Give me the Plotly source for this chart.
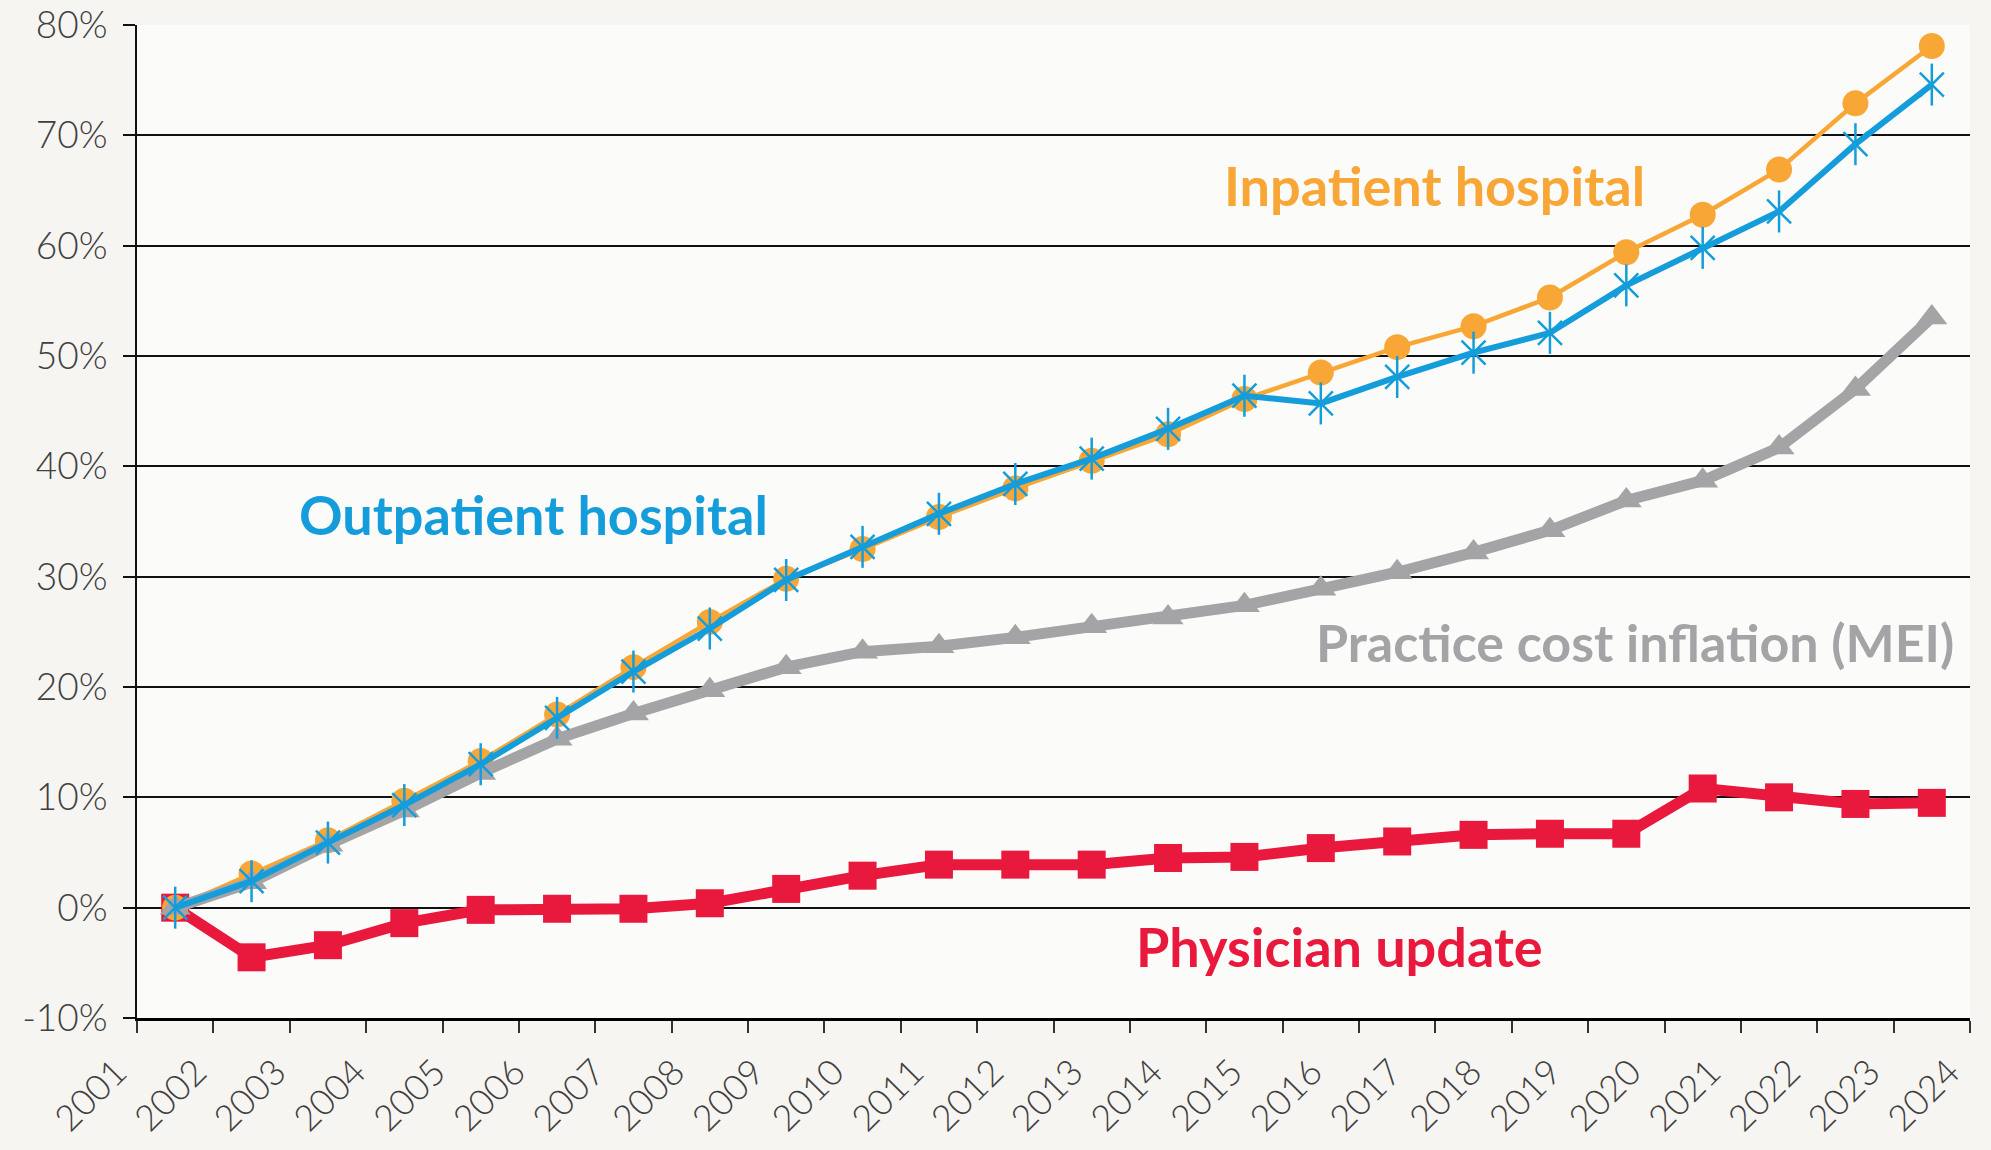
import plotly.graph_objects as go

# ---------------- data ----------------
years = list(range(2001, 2025))
year_labels = [str(y) for y in years]

inpatient = [0.0, 3.1, 6.1, 9.7, 13.3, 17.5, 21.8, 25.9, 29.8, 32.5, 35.4, 38.0,
             40.5, 42.9, 46.1, 48.5, 50.8, 52.7, 55.3, 59.4, 62.8, 66.9, 72.9, 78.1]
outpatient = [0.0, 2.4, 5.9, 9.3, 13.0, 17.2, 21.4, 25.3, 29.7, 32.7, 35.7, 38.4,
              40.7, 43.4, 46.4, 45.7, 48.1, 50.3, 52.1, 56.4, 59.8, 63.1, 69.2, 74.6]
mei = [0.0, 2.3, 5.7, 8.8, 12.2, 15.3, 17.6, 19.7, 21.8, 23.2, 23.7, 24.5,
       25.5, 26.3, 27.4, 28.9, 30.4, 32.2, 34.2, 36.9, 38.7, 41.7, 47.0, 53.5]
physician = [0.0, -4.5, -3.4, -1.4, -0.2, -0.1, -0.1, 0.4, 1.7, 2.9, 3.9, 3.9,
             3.9, 4.5, 4.6, 5.4, 6.0, 6.6, 6.7, 6.7, 10.8, 10.0, 9.4, 9.5]

y_ticks = list(range(-10, 90, 10))
y_tick_labels = [f"{v}%" for v in y_ticks]

series_labels = ["Inpatient hospital", "Outpatient hospital",
                 "Practice cost inflation (MEI)", "Physician update"]

# ---------------- style ----------------
C_IN = "#F8A737"
C_OUT = "#149DDA"
C_MEI = "#A4A4A6"
C_PHY = "#E8193C"

x_lo, x_hi = years[0] - 0.5, years[-1] + 0.5
n = len(years)
boundary_ticks = [x_lo + i for i in range(n + 1)]
label_pos = [x_lo + i * (x_hi - x_lo) / (n - 1) for i in range(n)]
pad = "\u00a0" * 3  # nudges the rotated label ends slightly left
label_text = [t + pad for t in year_labels]

fig = go.Figure()

fig.add_trace(go.Scatter(
    x=years, y=physician, mode="lines+markers", name=series_labels[3],
    line=dict(color=C_PHY, width=11),
    marker=dict(symbol="square", size=28, color=C_PHY)))

fig.add_trace(go.Scatter(
    x=years, y=inpatient, mode="lines+markers", name=series_labels[0],
    line=dict(color=C_IN, width=4.5),
    marker=dict(symbol="circle", size=26, color=C_IN)))

fig.add_trace(go.Scatter(
    x=years, y=mei, mode="lines+markers", name=series_labels[2],
    line=dict(color=C_MEI, width=11),
    marker=dict(symbol="triangle-up", size=27, color=C_MEI)))

fig.add_trace(go.Scatter(
    x=years, y=outpatient, mode="lines+markers", name=series_labels[1],
    line=dict(color=C_OUT, width=6),
    marker=dict(symbol="x-thin-open", size=24, color=C_OUT,
                line=dict(color=C_OUT, width=2.5))))
fig.add_trace(go.Scatter(
    x=years, y=outpatient, mode="markers", showlegend=False, hoverinfo="skip",
    marker=dict(symbol="line-ns-open", size=30, color=C_OUT,
                line=dict(color=C_OUT, width=2.5))))

# helper trace so the label axis is drawn
fig.add_trace(go.Scatter(x=[x_lo, x_hi], y=[None, None], xaxis="x2",
                         mode="none", showlegend=False, hoverinfo="skip"))

ann = [
    (series_labels[0], 2017.49, 65.45, C_IN, 54),
    (series_labels[1], 2005.69, 35.6, C_OUT, 54),
    (series_labels[2], 2020.11, 24.1, C_MEI, 52),
    (series_labels[3], 2016.25, -3.5, C_PHY, 54),
]
for text, ax_, ay_, col, fs in ann:
    fig.add_annotation(x=ax_, y=ay_, xref="x", yref="y", text=text,
                       showarrow=False, xanchor="center", yanchor="middle",
                       font=dict(family="Lato", size=fs, weight="bold",
                                 color=col))

tick_font = dict(family="Lato", size=37, color="#404040", weight=300)
xtick_font = dict(family="Lato", size=36, color="#404040", weight=300)

fig.update_layout(
    width=1991, height=1150,
    margin=dict(l=137, r=21, t=25, b=132),
    paper_bgcolor="#F6F5F2",
    plot_bgcolor="#FBFBFA",
    showlegend=False,
    xaxis=dict(range=[x_lo, x_hi], tickmode="array", tickvals=boundary_ticks,
               showticklabels=False, ticks="outside", ticklen=12, tickwidth=1.5,
               tickcolor="#333333", showline=True, linecolor="#000000",
               linewidth=3, showgrid=False, zeroline=False, automargin=False),
    xaxis2=dict(overlaying="x", side="bottom", anchor="y",
                range=[x_lo, x_hi], tickmode="array", tickvals=label_pos,
                ticktext=label_text, tickangle=-45, ticks="",
                showgrid=False, showline=False, zeroline=False,
                tickfont=xtick_font, ticklabelstandoff=4, automargin=False),
    yaxis=dict(range=[-10, 80], tickmode="array", tickvals=y_ticks,
               ticktext=y_tick_labels, showgrid=True, gridcolor="#111111",
               gridwidth=2, ticks="outside", ticklen=12, tickwidth=2,
               tickcolor="#111111", showline=True, linecolor="#111111",
               linewidth=2, zeroline=False, tickfont=tick_font,
               ticklabelstandoff=8, automargin=False),
)

fig.write_html("out.html", config={"displayModeBar": False},
               post_script="document.body.style.margin='0';")
